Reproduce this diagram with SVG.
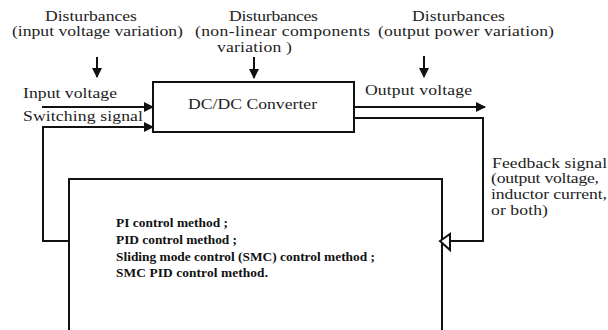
<svg xmlns="http://www.w3.org/2000/svg" width="608" height="330" viewBox="0 0 608 330">
<style>
text{font-family:"Liberation Serif","Times New Roman",serif;fill:#222;font-size:14px}
.b{font-weight:bold;font-size:12.5px;fill:#111}
.box{fill:#fff;stroke:#111;stroke-width:2}
.ln{fill:none;stroke:#111;stroke-width:2}
.ah{fill:#111}
</style>
<defs>
<marker id="arr" viewBox="0 0 10 10" refX="9" refY="5" markerWidth="5" markerHeight="5" orient="auto" markerUnits="strokeWidth">
<path d="M0,0 L10,5 L0,10 z" class="ah"/>
</marker>
</defs>
<rect width="608" height="330" fill="#fff"/>
<g id="converter">
<rect class="box" x="153" y="82" width="201" height="50"/>
<text transform="translate(188,109) scale(1.26,1)" textLength="102.4" lengthAdjust="spacing">DC/DC Converter</text>
</g>
<g id="controller">
<path class="ln" d="M69,330 V179 H442 V330"/>
<text class="b" transform="translate(116,227) scale(1.072,1)" textLength="104.5" lengthAdjust="spacing">PI control method ;</text>
<text class="b" transform="translate(116,244) scale(1.072,1)" textLength="112.9" lengthAdjust="spacing">PID control method ;</text>
<text class="b" transform="translate(116,261) scale(1.072,1)" textLength="241.6" lengthAdjust="spacing">Sliding mode control (SMC) control method ;</text>
<text class="b" transform="translate(116,277) scale(1.072,1)" textLength="141.8" lengthAdjust="spacing">SMC PID control method.</text>
</g>
<g id="connectors">
<line class="ln" x1="97" y1="57" x2="97" y2="77" marker-end="url(#arr)"/>
<line class="ln" x1="254" y1="57" x2="254" y2="78" marker-end="url(#arr)"/>
<line class="ln" x1="424" y1="56" x2="424" y2="77" marker-end="url(#arr)"/>
<line class="ln" x1="42" y1="107" x2="153" y2="107" marker-end="url(#arr)"/>
<path class="ln" d="M69,241 H43 V127 H153" marker-end="url(#arr)"/>
<line class="ln" x1="354" y1="107" x2="485" y2="107" marker-end="url(#arr)"/>
<path class="ln" d="M354,118 H483 V241 H442"/>
<polygon points="440,241 450,234 450,250" fill="#fff" stroke="#111" stroke-width="2"/>
</g>
<g id="labels">
<text transform="translate(45,21) scale(1.26,1)" textLength="73" lengthAdjust="spacing">Disturbances</text>
<text transform="translate(12,36) scale(1.26,1)" textLength="135.7" lengthAdjust="spacing">(input voltage variation)</text>
<text transform="translate(229,21) scale(1.26,1)" textLength="70.6" lengthAdjust="spacing">Disturbances</text>
<text transform="translate(195,36) scale(1.26,1)" textLength="138.9" lengthAdjust="spacing">(non-linear components</text>
<text transform="translate(217,52) scale(1.26,1)" textLength="59.5" lengthAdjust="spacing">variation )</text>
<text transform="translate(412,21) scale(1.26,1)" textLength="73.8" lengthAdjust="spacing">Disturbances</text>
<text transform="translate(378,36) scale(1.26,1)" textLength="139.7" lengthAdjust="spacing">(output power variation)</text>
<text transform="translate(23,98) scale(1.26,1)" textLength="74.6" lengthAdjust="spacing">Input voltage</text>
<text transform="translate(23,121) scale(1.26,1)" textLength="95.2" lengthAdjust="spacing">Switching signal</text>
<text transform="translate(365,95) scale(1.26,1)" textLength="84.9" lengthAdjust="spacing">Output voltage</text>
<text transform="translate(492,168) scale(1.26,1)" textLength="91.3" lengthAdjust="spacing">Feedback signal</text>
<text transform="translate(491,183) scale(1.26,1)" textLength="85.7" lengthAdjust="spacing">(output voltage,</text>
<text transform="translate(491,199) scale(1.26,1)" textLength="92.1" lengthAdjust="spacing">inductor current,</text>
<text transform="translate(491,215) scale(1.26,1)" textLength="45.2" lengthAdjust="spacing">or both)</text>
</g>
</svg>
